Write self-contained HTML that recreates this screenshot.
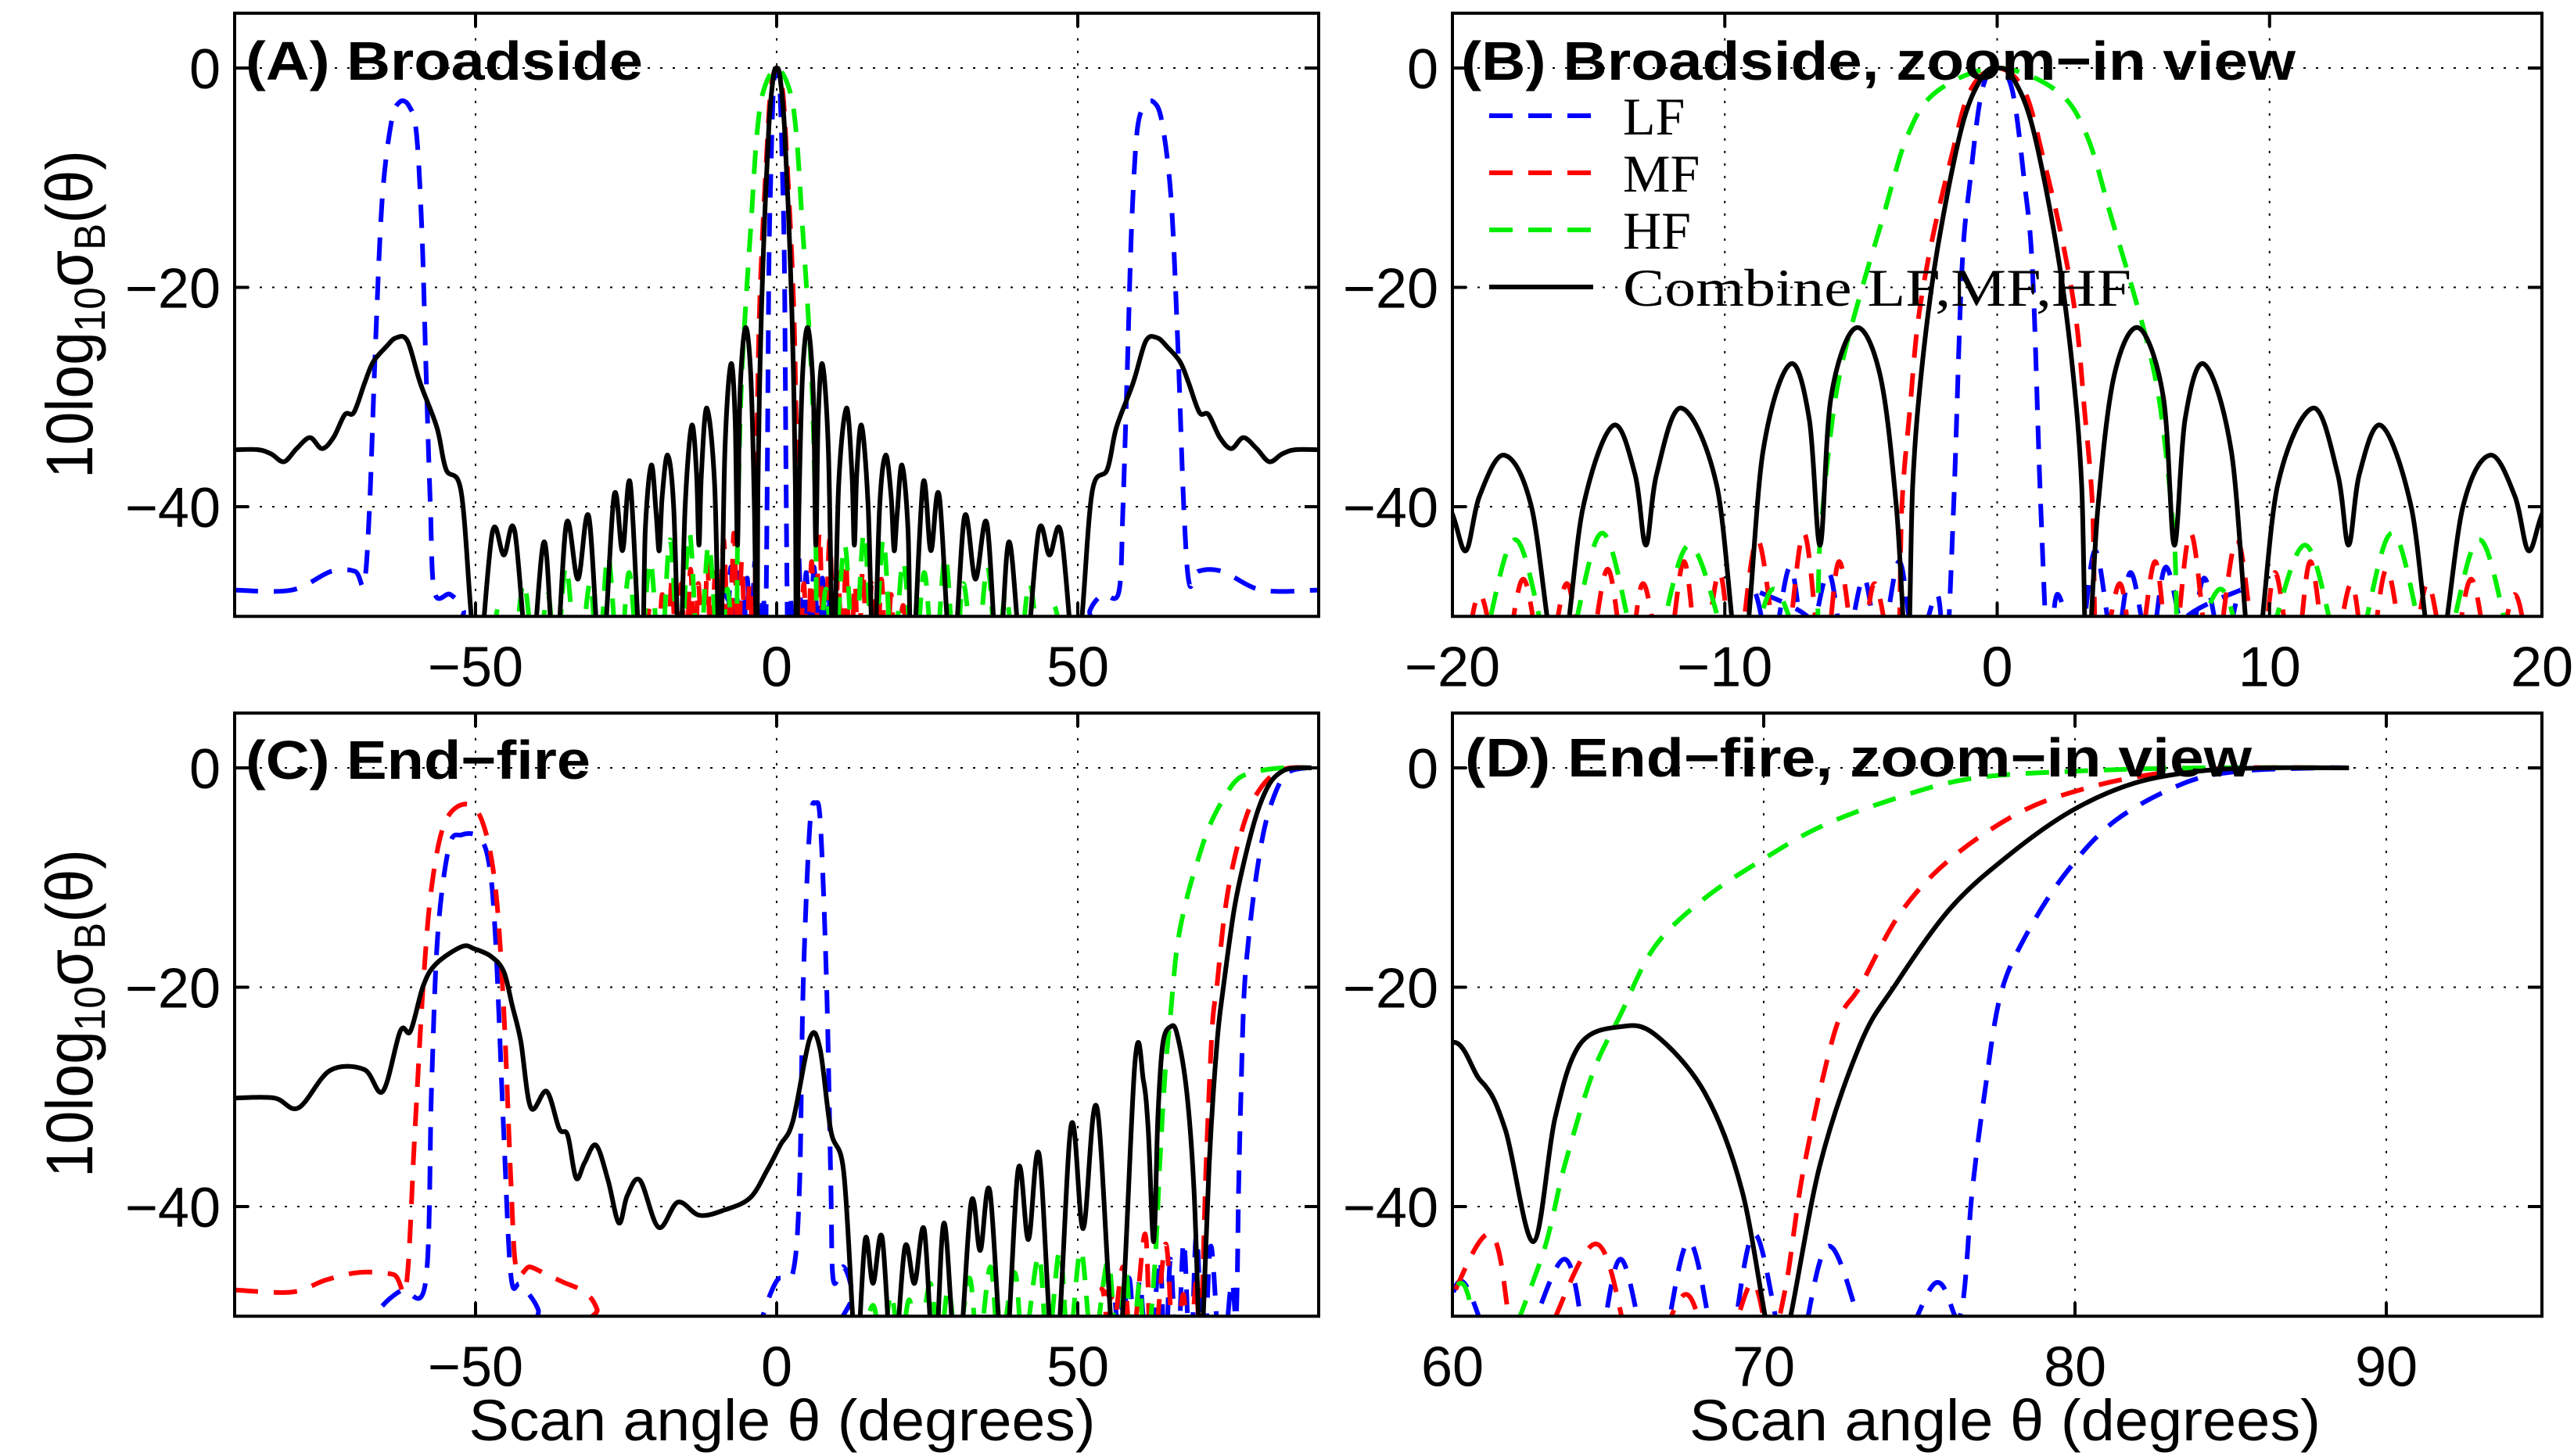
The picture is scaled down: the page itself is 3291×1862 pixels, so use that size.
<!DOCTYPE html>
<html><head><meta charset="utf-8"><style>
html,body{margin:0;padding:0;background:#fff;}
svg{display:block;}
text{font-family:"Liberation Sans",Arial,sans-serif;fill:#000;}
.serif{font-family:"Liberation Serif","DejaVu Serif",serif;}
</style></head><body>
<svg id="fig" xmlns="http://www.w3.org/2000/svg" width="3291" height="1862" viewBox="0 0 3291 1862">
<rect x="0" y="0" width="3291" height="1862" fill="#fff"/>
</svg>
<script>
// ---------- Broadside data (panels A & B) ----------
const bsBlackAngle = [-90,-86.1,-83.9,-81.8,-79.7,-77.5,-75.5,-73.6,-71.7,-70.2,-68.4,-67,-64.8,-63.2,-61.3,-59.2,-56.4,-54.9,-52.4,-50.7,-49.5,-47.2,-45.3,-43.5,-41,-38.6,-36.8,-34.9,-33,-31.2,-29.1,-27,-25.6,-24.3,-22.5,-21.8,-20.8,-20,-19.5,-19,-18.1,-17.1,-16.1,-15.2,-14.1,-13.3,-12.9,-12.5,-11.6,-10.3,-9.4,-8.6,-7.6,-6.9,-6.5,-6.1,-5.2,-4.3,-3.7,-3.3,-3.1,-2.75,-2.2,-1.3,-0.55,0,0.55,1.3,2.2,2.75,3.1,3.3,3.7,4.3,5.2,6.1,6.5,6.9,7.6,8.6,9.4,10.3,11.6,12.5,12.9,13.3,14.1,15.2,16.1,17.1,18.1,19,19.5,20,20.8,21.8,22.5,24.3,25.6,27,29.1,31.2,33,34.9,36.8,38.6,41,43.5,45.3,47.2,49.5,50.7,52.4,54.9,56.4,59.2,61.3,63.2,64.8,67,68.4,70.2,71.7,73.6,75.5,77.5,79.7,81.8,83.9,86.1,90];
const bsBlackDb = [-34.8,-34.8,-35.2,-35.9,-34.7,-33.7,-34.7,-33.7,-31.6,-31.4,-28.7,-26.8,-25.4,-24.6,-24.9,-28.7,-32.8,-36.6,-38.6,-50,-55,-42.3,-44.4,-42.2,-55,-43.2,-55,-41.5,-46.6,-40.9,-55,-39,-44,-37.9,-55,-42,-36.2,-40.7,-44,-39,-35.3,-40,-55,-40,-32.6,-37,-43.5,-37,-31,-38,-55,-35,-27,-32,-43.5,-30,-23.7,-28,-40,-55,-38,-27,-16.6,-5.4,-0.8,0,-0.8,-5.4,-16.6,-27,-38,-55,-40,-28,-23.7,-30,-43.5,-32,-27,-35,-55,-38,-31,-37,-43.5,-37,-32.6,-40,-55,-40,-35.3,-39,-44,-40.7,-36.2,-42,-55,-37.9,-44,-39,-55,-40.9,-46.6,-41.5,-55,-43.2,-55,-42.2,-44.4,-42.3,-55,-50,-38.6,-36.6,-32.8,-28.7,-24.9,-24.6,-25.4,-26.8,-28.7,-31.4,-31.6,-33.7,-34.7,-33.7,-34.7,-35.9,-35.2,-34.8,-34.8];
const bsLFAngle = [-90,-80.5,-74,-70,-68.5,-67.6,-66.6,-65.5,-64,-62.6,-61,-59.8,-58.9,-58.2,-57.5,-56.8,-54.2,-52,-50.5,-10,-9,-8.3,-7.6,-7,-6.2,-5.6,-4.9,-4.3,-3.6,-3,-2.2,-1.9,-1.6,-1.3,-1,-0.55,0,0.55,1,1.3,1.6,1.9,2.2,3,3.6,4.3,4.9,5.6,6.2,7,7.6,8.3,9,10,50.5,52,54.2,56.8,57.5,58.2,58.9,59.8,61,62.6,64,65.5,66.6,67.6,68.5,70,74,80.5,90];
const bsLFDb = [-47.6,-47.6,-45.9,-45.9,-47,-40,-25,-12,-5,-3.1,-3.5,-6,-15,-28,-40,-47.8,-48,-49.5,-53,-53,-47.5,-53,-45.5,-53,-46,-53,-46.5,-53,-45,-53,-48,-55,-40,-18.7,-10.4,-2,0,-2,-10.4,-18.7,-40,-55,-48,-53,-44,-53,-46,-53,-45.5,-53,-46.5,-53,-47.5,-53,-53,-49.5,-48,-47.8,-40,-28,-15,-6,-3.5,-3.1,-5,-12,-25,-40,-47,-45.9,-45.9,-47.6,-47.6];
const bsMFAngle = [-22,-21,-19.8,-19,-18.2,-17.4,-16.6,-15.8,-15.1,-14.3,-13.6,-13,-12.2,-11.5,-10.9,-10.2,-9.6,-8.8,-7.9,-7.1,-6.4,-5.8,-5.1,-4.5,-3.7,-3.5,-3.2,-2.9,-2.4,-1.7,-1,0,1,1.7,2.4,2.9,3.2,3.5,3.7,4.5,5.1,5.8,6.4,7.1,7.9,8.8,9.6,10.2,10.9,11.5,12.2,13,13.6,14.3,15.1,15.8,16.6,17.4,18.2,19,19.8,21,22];
const bsMFDb = [-55,-49,-55,-48,-55,-46.6,-55,-47,-55,-45.7,-55,-47,-55,-45,-55,-46,-55,-43,-55,-42.4,-55,-45,-55,-47,-55,-40,-31,-23,-15.8,-8.3,-2.1,0,-2.1,-8.3,-15.8,-23,-31,-40,-55,-47,-55,-45,-55,-42.4,-55,-43,-55,-46,-55,-45,-55,-47,-55,-45.7,-55,-47,-55,-46.6,-55,-48,-55,-49,-55];
const bsHFAngle = [-48,-46,-44,-42,-40,-38,-36.6,-35,-33,-31,-29.6,-28,-26.2,-24.5,-22.8,-21,-19.3,-17.7,-16.1,-14.5,-12.9,-11.3,-9.5,-8.2,-6.8,-6.5,-6.1,-5.7,-5,-4.2,-3.3,-2.2,0,2.2,3.3,4.2,5,5.7,6.1,6.5,6.8,8.2,9.5,11.3,12.9,14.5,16.1,17.7,19.3,21,22.8,24.5,26.2,28,29.6,31,33,35,36.6,38,40,42,44,46,48];
const bsHFDb = [-55,-49,-55,-47,-55,-48,-55,-45.5,-55,-47,-55,-44.5,-55,-46,-55,-45,-55,-43,-55,-42.4,-55,-43.5,-55,-47.5,-55,-43,-33,-27,-20.4,-13.7,-6.2,-2.1,0,-2.1,-6.2,-13.7,-20.4,-27,-33,-43,-55,-47.5,-55,-43.5,-55,-42.4,-55,-43,-55,-45,-55,-46,-55,-44.5,-55,-47,-55,-45.5,-55,-48,-55,-47,-55,-49,-55];

// ---------- End-fire data (panels C & D) ----------
const efBlackAngle = [-90,-83.4,-79.4,-74.2,-68.5,-65.4,-62.5,-60.8,-58.7,-56.6,-52.3,-50.2,-47.4,-45.3,-43.9,-42.5,-40.8,-38.2,-36.1,-34.7,-33.3,-31.9,-30,-28,-26.2,-24.8,-22.7,-19.6,-16.4,-12.8,-8.6,-4.4,-1.6,0.6,2.7,5.5,7.2,9,11.1,12.6,13.3,14.7,16,17.5,19.3,21.3,22.9,24.5,26.2,27.8,30,32.3,33.8,35.4,37.8,40.1,41.8,43.6,46.2,48.9,50.9,53.2,56.5,59.5,60.9,61.7,62.6,63.3,64.1,65.4,66.5,68.1,69.3,70.2,70.7,71.8,73.1,74.2,76,77.9,79.9,81.9,84,86.1,88.8];
const efBlackDb = [-30.1,-30.1,-31,-27.6,-27.5,-29.5,-24,-24,-19.9,-17.9,-16.3,-16.5,-17.2,-18.6,-21.7,-24.9,-31,-29.5,-32.9,-33.5,-37.4,-36,-34.4,-37.6,-41.5,-39,-37.6,-41.9,-39.6,-40.8,-40.3,-39.2,-36.7,-34.4,-32.2,-24.7,-25.6,-33.1,-36.7,-49.8,-55,-43,-47,-42.8,-55,-43.7,-47,-42.1,-55,-41.5,-55,-39.6,-44,-38.6,-55,-36.6,-43,-35.3,-55,-32.6,-42,-31,-55,-26.8,-28.5,-33,-43.2,-31.9,-25.2,-23.6,-24.3,-29.6,-38.5,-52,-52,-36.3,-25.2,-19.9,-12.8,-7.9,-3.9,-1.4,-0.3,0,0];
const efLFAngle = [-69.2,-65.7,-62.2,-58.3,-57.3,-56.3,-54.4,-52.3,-49.5,-47.8,-46.7,-45.3,-44.1,-42.5,-39.6,-38.5,-3,-2.3,0.1,2.7,3.8,4.4,5.5,6.5,7.3,8.3,9,9.4,11.1,12.6,13.2,55,56,57,58.5,59.5,60.3,61.8,63.6,64.5,65.4,66.5,67.6,68.7,69.7,70.9,72.1,73.8,75.5,76.3,76.7,77.1,77.6,78.4,79.7,81.3,83.5,85.3,88,88.8];
const efLFDb = [-52,-49.2,-47.6,-46.9,-29,-15.4,-7.2,-6.1,-6.3,-8.6,-15.4,-33.5,-46.4,-47.1,-49.4,-53,-53,-50,-46.7,-46,-38,-19.9,-5.4,-3.2,-5.4,-19.9,-38,-46.7,-45.5,-48,-53,-53,-48,-53,-46.5,-53,-46.8,-55,-44.8,-55,-44.8,-55,-43.2,-55,-42.5,-55,-43.6,-55,-47,-50,-38.5,-29.6,-20.8,-15.4,-9.6,-4.8,-1.4,-0.3,0,0];
const efMFAngle = [-90,-80.5,-74.9,-69.3,-63.6,-61.5,-60.1,-58.7,-57.3,-55.1,-51.6,-48.8,-46.7,-45.3,-44.1,-43.2,-41,-38.2,-35.4,-31.9,-29.8,-28.5,52,54,55.5,57.5,59,61.2,62.3,64.6,66,67.5,68.5,69.6,70.2,70.7,71.3,72.3,73.1,74.4,76,78.2,80.3,82.7,85.3,88.8];
const efMFDb = [-47.6,-47.8,-46.7,-46,-46.2,-47.1,-33.5,-19.9,-10.9,-5,-3.3,-5,-10.9,-22.2,-38,-45.8,-45.5,-46.2,-46.9,-47.8,-49.4,-53,-53,-47.5,-53,-45.5,-53,-42.5,-55,-43.4,-55,-48,-55,-47,-52,-47.4,-36.3,-23.9,-19.9,-13.2,-8.3,-4.1,-1.9,-0.5,0,0];
const efHFAngle = [14,16,17.5,19,20.5,22,23.5,25.5,27,28.5,30,32,33.5,35.5,37,39.5,41,43.5,45,47,48.5,50.5,52.5,55,56.5,58,59,60.3,61.2,62.8,63.6,64.5,65.4,66.5,68.1,70,71.8,74,76.6,80,84,88.8];
const efHFDb = [-53,-49,-53,-48,-53,-48.5,-53,-47,-53,-47.5,-53,-46.5,-53,-45.5,-53,-46,-53,-44.5,-53,-44,-53,-44,-53,-45,-53,-46,-53,-47,-55,-45.2,-36.3,-27.9,-22.5,-16.3,-11.9,-8.3,-5.4,-3,-1,-0.3,0,0];

// ---------- tick labels ----------
const wideTicks = [-50, 0, 50];
const zoomBTicks = [-20, -10, 0, 10, 20];
const zoomDTicks = [60, 70, 80, 90];
const yTicks = [0, -20, -40];

const NS = "http://www.w3.org/2000/svg";
const svg = document.getElementById('fig');
function el(tag, attrs, parent) {
  const e = document.createElementNS(NS, tag);
  for (const k in attrs) e.setAttribute(k, attrs[k]);
  (parent || svg).appendChild(e);
  return e;
}
const DBPX = 14.025;
const panels = [
  {id:'a', x0:300, x1:1686, y0:87, xmin:-90, xmax:90, xt:wideTicks, title:'(A) Broadside', tx:314, tlen:508, ty:102, data:'bs', xl:false},
  {id:'b', x0:1857, x1:3250, y0:87, xmin:-20, xmax:20, xt:zoomBTicks, title:'(B) Broadside, zoom\u2212in view', tx:1868, tlen:1067, ty:102, data:'bs', xl:false},
  {id:'c', x0:300, x1:1686, y0:982, xmin:-90, xmax:90, xt:wideTicks, title:'(C) End\u2212fire', tx:314, tlen:441, ty:996, data:'ef', xl:true},
  {id:'d', x0:1857, x1:3250, y0:982, xmin:60, xmax:95, xt:zoomDTicks, title:'(D) End\u2212fire, zoom\u2212in view', tx:1873, tlen:1006, ty:993, data:'ef', xl:true}
];
const seriesSets = {
  bs: [[bsLFAngle,bsLFDb,'#0000ff','lf'],[bsMFAngle,bsMFDb,'#ff0000','mf'],[bsHFAngle,bsHFDb,'#00ee00','hf'],[bsBlackAngle,bsBlackDb,'#000','combined']],
  ef: [[efLFAngle,efLFDb,'#0000ff','lf'],[efMFAngle,efMFDb,'#ff0000','mf'],[efHFAngle,efHFDb,'#00ee00','hf'],[efBlackAngle,efBlackDb,'#000','combined']]
};
function crPath(pts) {
  let d = 'M' + pts[0][0].toFixed(1) + ',' + pts[0][1].toFixed(1);
  for (let i = 0; i < pts.length - 1; i++) {
    const p0 = pts[i-1] || pts[i], p1 = pts[i], p2 = pts[i+1], p3 = pts[i+2] || pts[i+1];
    const c1 = [p1[0] + (p2[0]-p0[0])/6, p1[1] + (p2[1]-p0[1])/6];
    const c2 = [p2[0] - (p3[0]-p1[0])/6, p2[1] - (p3[1]-p1[1])/6];
    d += 'C' + c1[0].toFixed(1) + ',' + c1[1].toFixed(1) + ' ' + c2[0].toFixed(1) + ',' + c2[1].toFixed(1) + ' ' + p2[0].toFixed(1) + ',' + p2[1].toFixed(1);
  }
  return d;
}
const defs = el('defs', {});
panels.forEach(p => {
  const xs = v => p.x0 + (v - p.xmin) / (p.xmax - p.xmin) * (p.x1 - p.x0);
  const ys = v => p.y0 - v * DBPX;
  const top = ys(5), bot = ys(-50);
  const g = el('g', {});
  
  
  const cp = el('clipPath', {id:'clip-' + p.id}, defs);
  el('rect', {x:p.x0, y:top, width:p.x1-p.x0, height:bot-top}, cp);
  const grid = el('g', {stroke:'#000', 'stroke-width':2, 'stroke-dasharray':'3 13'}, g);
  
  
  p.xt.forEach(v => el('line', {x1:xs(v), x2:xs(v), y1:top, y2:bot}, grid));
  yTicks.forEach(v => el('line', {x1:p.x0, x2:p.x1, y1:ys(v), y2:ys(v)}, grid));
  const sg = el('g', {'clip-path':'url(#clip-' + p.id + ')'}, g);
  seriesSets[p.data].forEach(s => {
    const pts = s[0].map((a, i) => [xs(a), ys(s[1][i])]);
    const path = el('path', {d:crPath(pts), fill:'none', stroke:s[2], 'stroke-width':6, 'stroke-linejoin':'round'}, sg);
    if (s[3] !== 'combined') path.setAttribute('stroke-dasharray', '30 20');
    
    
  });
  const ax = el('g', {stroke:'#000', 'stroke-width':4, fill:'none'}, g);
  
  
  el('rect', {x:p.x0, y:top, width:p.x1-p.x0, height:bot-top}, ax);
  p.xt.forEach(v => {
    el('line', {x1:xs(v), x2:xs(v), y1:bot, y2:bot-18}, ax);
    el('line', {x1:xs(v), x2:xs(v), y1:top, y2:top+18}, ax);
  });
  yTicks.forEach(v => {
    el('line', {x1:p.x0, x2:p.x0+18, y1:ys(v), y2:ys(v)}, ax);
    el('line', {x1:p.x1, x2:p.x1-18, y1:ys(v), y2:ys(v)}, ax);
  });
  p.xt.forEach(v => {
    const t = el('text', {x:xs(v), y:bot+89, 'font-size':72, 'text-anchor':'middle'}, g);
    t.textContent = String(v).replace('-', '\u2212');
    
    
  });
  yTicks.forEach(v => {
    const t = el('text', {x:p.x0-18, y:ys(v)+26, 'font-size':72, 'text-anchor':'end'}, g);
    t.textContent = String(v).replace('-', '\u2212');
    
    
  });
  const tt = el('text', {x:p.tx, y:p.ty, 'font-size':70, 'font-weight':'bold', textLength:p.tlen, lengthAdjust:'spacingAndGlyphs'}, g);
  tt.textContent = p.title;
  
  
  if (p.xl) {
    const xl = el('text', {x:(p.x0+p.x1)/2 + (p.id==='c' ? 7 : 10), y:1842, 'font-size':74, 'text-anchor':'middle', textLength:(p.id==='c'?801:807), lengthAdjust:'spacingAndGlyphs'}, g);
    xl.textContent = 'Scan angle \u03b8 (degrees)';
    
    
  }
});
[402, 1296].forEach((cy, i) => {
  const t = el('text', {x:0, y:0, 'font-size':84, 'text-anchor':'middle', textLength:420, lengthAdjust:'spacingAndGlyphs', transform:'translate(118,' + cy + ') rotate(-90)'});
  t.innerHTML = '10log<tspan font-size="56" dy="16">10</tspan><tspan dy="-16">\u03c3</tspan><tspan font-size="56" dy="16">B</tspan><tspan dy="-16">(\u03b8)</tspan>';
  
  
});
const leg = el('g', {});


const legendLabels = ['LF', 'MF', 'HF', 'Combine LF,MF,HF'];
const legendColors = ['#0000ff', '#ff0000', '#00ee00', '#000'];
const legendRows = [148, 221, 294, 367];
legendLabels.forEach((lab, i) => {
  const ln = el('line', {x1:1904, x2:2037, y1:legendRows[i], y2:legendRows[i], stroke:legendColors[i], 'stroke-width':6}, leg);
  if (i < 3) ln.setAttribute('stroke-dasharray', '30 20');
  
  
  const t = el('text', {x:2075, y:legendRows[i]+24, 'font-size':68, class:'serif'}, leg);
  if (i === 3) { t.setAttribute('textLength', 650); t.setAttribute('lengthAdjust', 'spacingAndGlyphs'); }
  t.textContent = lab;
  
  
});
</script>
</body></html>
